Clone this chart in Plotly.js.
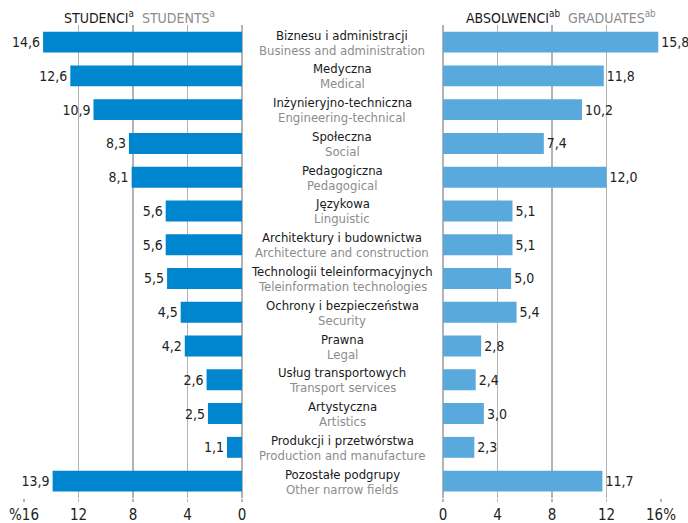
<!DOCTYPE html>
<html><head><meta charset="utf-8">
<script src="https://cdn.plot.ly/plotly-3.0.1.min.js"></script>
<style>html,body{margin:0;padding:0;background:#fff}#chart{width:688px;height:523px}</style>
</head><body><div id="chart"></div>
<script>
const categoriesPL = ["Biznesu i administracji","Medyczna","Inżynieryjno-techniczna","Społeczna","Pedagogiczna","Językowa","Architektury i budownictwa","Technologii teleinformacyjnych","Ochrony i bezpieczeństwa","Prawna","Usług transportowych","Artystyczna","Produkcji i przetwórstwa","Pozostałe podgrupy"];
const categoriesEN = ["Business and administration","Medical","Engineering-technical","Social","Pedagogical","Linguistic","Architecture and construction","Teleinformation technologies","Security","Legal","Transport services","Artistics","Production and manufacture","Other narrow fields"];
const students = [14.6,12.6,10.9,8.3,8.1,5.6,5.6,5.5,4.5,4.2,2.6,2.5,1.1,13.9];
const graduates = [15.8,11.8,10.2,7.4,12.0,5.1,5.1,5.0,5.4,2.8,2.4,3.0,2.3,11.7];
const tickVals = [0,4,8,12,16];
const tickLeft = ["0","4","8","12","%16"];
const tickRight = ["0","4","8","12","16%"];

const FONT = "DejaVu Sans Condensed, Liberation Sans Narrow, sans-serif";
const GRID = "#b3b3b3";
const H = 523;

const fmt = v => v.toFixed(1).replace('.', ',');

const traces = [
  {type:'bar', orientation:'h', x:students, y:categoriesPL, xaxis:'x', yaxis:'y',
   marker:{color:'#0086CE'}, width:0.62, text:students.map(fmt), textposition:'outside',
   textfont:{family:FONT,size:14,color:'#222'}, cliponaxis:false, constraintext:'none', hoverinfo:'none'},
  {type:'bar', orientation:'h', x:graduates, y:categoriesPL, xaxis:'x2', yaxis:'y',
   marker:{color:'#5AA9DD'}, width:0.62, text:graduates.map(fmt), textposition:'outside',
   textfont:{family:FONT,size:14,color:'#222'}, cliponaxis:false, constraintext:'none', hoverinfo:'none'}
];

const annotations = [];
categoriesPL.forEach((c,i)=>{
  annotations.push({xref:'paper', yref:'y', x:342/688, y:c, yshift:7, text:c, showarrow:false,
    xanchor:'center', yanchor:'middle', font:{family:FONT,size:13,color:'#1a1a1a'}});
  annotations.push({xref:'paper', yref:'y', x:342/688, y:c, yshift:-8, text:categoriesEN[i], showarrow:false,
    xanchor:'center', yanchor:'middle', font:{family:FONT,size:13,color:'#8c8c8c'}});
});
annotations.push({xref:'paper', yref:'paper', x:139/688, y:1-17/H, xanchor:'center', yanchor:'middle', showarrow:false,
  text:"STUDENCI<sup>a</sup>  <span style='color:#8c8c8c'>STUDENTS<sup>a</sup></span>", font:{family:FONT,size:14,color:'#1a1a1a'}});
annotations.push({xref:'paper', yref:'paper', x:561/688, y:1-17/H, xanchor:'center', yanchor:'middle', showarrow:false,
  text:"ABSOLWENCI<sup>ab</sup>  <span style='color:#8c8c8c'>GRADUATES<sup>ab</sup></span>", font:{family:FONT,size:14,color:'#1a1a1a'}});

const axCommon = {range:[0,16], tickvals:tickVals, showgrid:true, gridcolor:GRID, gridwidth:1.5,
  zeroline:true, zerolinecolor:GRID, zerolinewidth:1.5, showline:false,
  ticks:'outside', ticklen:3, tickcolor:GRID, tickwidth:1.5,
  tickfont:{family:FONT,size:15,color:'#222'}, fixedrange:true, anchor:'y'};

const layout = {
  width:688, height:H, margin:{l:0,r:0,t:0,b:0}, paper_bgcolor:'#fff', plot_bgcolor:'rgba(0,0,0,0)',
  showlegend:false, separators:',.',
  xaxis:Object.assign({}, axCommon, {domain:[24/688, 242/688], autorange:false, range:[16,0], ticktext:tickLeft}),
  xaxis2:Object.assign({}, axCommon, {domain:[443/688, 661/688], ticktext:tickRight}),
  yaxis:{type:'category', categoryarray:categoriesPL, autorange:'reversed', domain:[(H-498)/H, (H-24.6)/H],
    showticklabels:false, showgrid:false, zeroline:false, ticks:'', fixedrange:true},
  annotations:annotations
};
Plotly.newPlot('chart', traces, layout, {displayModeBar:false, staticPlot:true});
</script></body></html>
